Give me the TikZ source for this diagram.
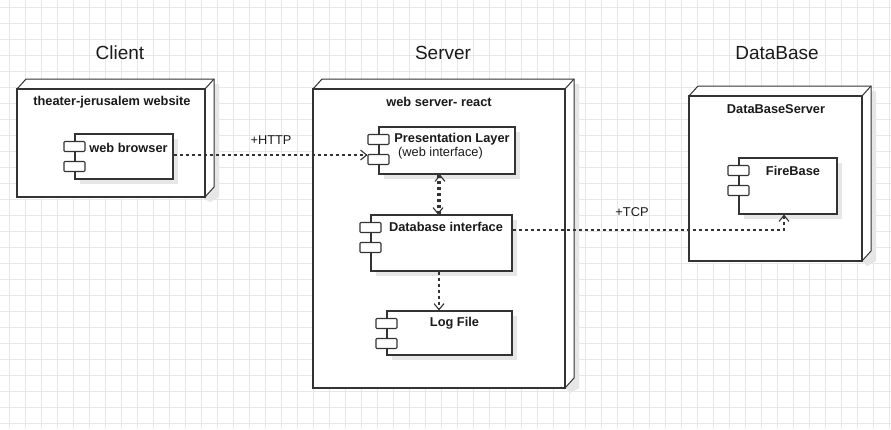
\documentclass[tikz,border=0pt]{standalone}
\usepackage{fontspec}
\setmainfont{Liberation Sans}
\usetikzlibrary{arrows.meta,shadows,fit}
\definecolor{gridc}{HTML}{E8E8E8}
\definecolor{linec}{HTML}{333333}
\definecolor{shadowc}{HTML}{E6E6E6}
\definecolor{textc}{HTML}{1A1A1A}
\tikzset{
  gridline/.style={draw=gridc, line width=0.6pt},
  frontbox/.style={draw=linec, line width=1.6pt, fill=white, inner sep=0pt},
  backface/.style={draw=linec, line width=1pt, fill=white, line join=miter},
  compbox/.style={draw=linec, line width=1.1pt, fill=white, inner sep=0pt,
    drop shadow={shadow xshift=5pt, shadow yshift=-5pt, fill=shadowc, opacity=1}},
  portbox/.style={draw=linec, line width=1.1pt, fill=white, rounded corners=1pt,
    minimum width=21pt, minimum height=10pt, inner sep=0pt, anchor=north},
  title/.style={font=\fontsize{19}{22}\selectfont, text=textc, inner sep=0pt},
  blabel/.style={font=\fontsize{12.8}{15}\selectfont\bfseries, text=textc, inner sep=0pt},
  nlabel/.style={font=\fontsize{12.8}{15}\selectfont, text=textc, inner sep=0pt},
  dep/.style={draw=linec, line width=1.2pt, dash pattern=on 3pt off 3pt},
  tip/.style={-{Straight Barb[length=6pt,width=10pt,line width=1.1pt]}},
}
% deployment node: name, x1, y1, x2, y2 (px, y downward)
\newcommand\depnode[5]{%
  \fill[shadowc] (#2+5,#3+5) -- (#2+14,#3-5) -- (#4+14,#3-5) -- (#4+14,#5) -- (#4+5,#5+5) -- cycle;
  \filldraw[backface] (#2,#3) -- (#2+9,#3-10) -- (#4+9,#3-10) -- (#4+9,#5-10) -- (#4,#5) -- (#4,#3) -- cycle;
  \draw[backface] (#4,#3) -- (#4+9,#3-10);
  \node[frontbox, fit={(#2,#3) (#4,#5)}] (#1) {};
}
% component: name, x1, y1, x2, y2
\newcommand\compnode[5]{%
  \node[compbox, fit={(#2,#3) (#4,#5)}] (#1) {};
  \node[portbox] (#1-p1) at ([yshift=-7.5pt]#1.north west) {};
  \node[portbox] (#1-p2) at ([yshift=-27.5pt]#1.north west) {};
}
\begin{document}
\begin{tikzpicture}[x=1pt,y=-1pt]
\useasboundingbox (0,0) rectangle (891,429);
\fill[white] (0,0) rectangle (891,429);
\foreach \i in {0,...,55} { \draw[gridline] (9+16*\i,0) -- (9+16*\i,429); }
\foreach \j in {0,...,26} { \draw[gridline] (0,7+16*\j) -- (891,7+16*\j); }

% titles
\node[title] (tclient) at (120,53) {Client};
\node[title] (tserver) at (443,53) {Server};
\node[title] (tdb) at (777,53) {DataBase};

% deployment nodes
\depnode{client}{17}{89}{205}{197}
\depnode{server}{313}{89}{565}{388}
\depnode{dbserver}{689}{96}{862}{261}

\node[blabel] (lclient) at (112,102) {theater-jerusalem website};
\node[blabel] (lserver) at (439,102) {web server- react};
\node[blabel] (ldbserver) at (776,109) {DataBaseServer};

% components
\compnode{wb}{75}{134}{173}{179}
\compnode{pres}{379}{127}{515}{174}
\compnode{dbi}{371}{215}{512}{271}
\compnode{log}{387}{311}{512}{355}
\compnode{fb}{739}{158}{837}{214}

\node[blabel] (lwb) at (128.5,148) {web browser};
\node[blabel] (lpres) at (452,139) {Presentation Layer};
\node[nlabel] (lpres2) at (440.5,153) {(web interface)};
\node[blabel] (ldbi) at (446,227) {Database interface};
\node[blabel] (llog) at (454.5,323) {Log File};
\node[blabel] (lfb) at (793,171) {FireBase};

% connectors
\draw[dep,tip] (wb.east |- 0,155) -- (pres-p2.west |- 0,155);
\node[nlabel] (lhttp) at (271,140) {+HTTP};

\draw[dep,tip] (pres.south -| 438,0) -- (dbi.north -| 438,0);
\draw[dep,tip] (dbi.north -| 440,0) -- (pres.south -| 440,0);

\draw[dep,tip] (dbi.south -| 439,0) -- (log.north -| 439,0);

\draw[dep,tip] (dbi.east |- 0,230) -| (fb.south -| 784,0);
\node[nlabel] (ltcp) at (632,212) {+TCP};
\end{tikzpicture}
\end{document}
